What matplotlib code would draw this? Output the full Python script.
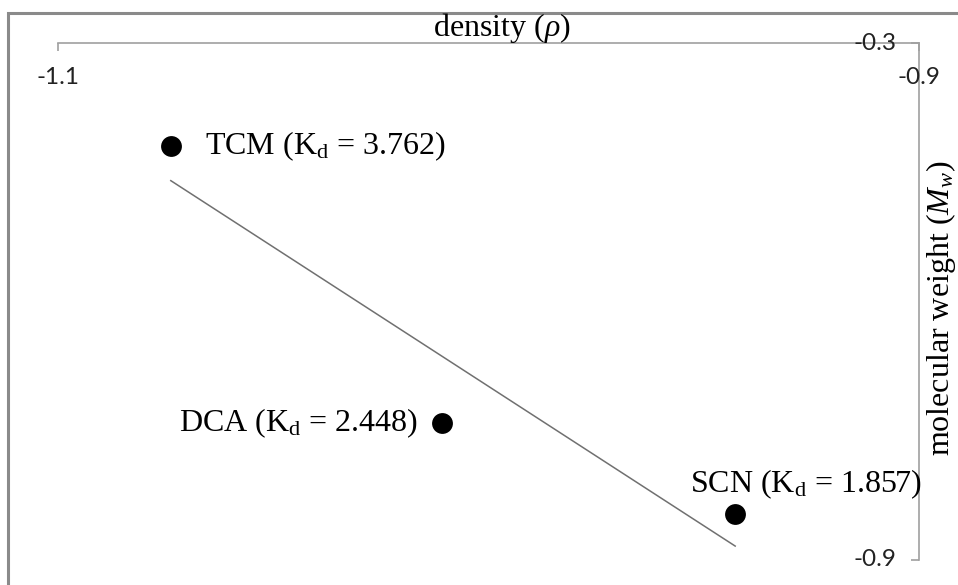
import numpy as np
import matplotlib
matplotlib.use("Agg")
import matplotlib.pyplot as plt
from matplotlib.patches import Rectangle

plt.rcParams['mathtext.fontset'] = 'custom'
plt.rcParams['mathtext.rm'] = 'Liberation Serif'
plt.rcParams['mathtext.it'] = 'Liberation Serif:italic'

# Data
names = ["TCM", "DCA", "SCN"]
kd = ["3.762", "2.448", "1.857"]
density = [-1.0738, -1.0108, -0.9427]
mol_weight = [-0.4195, -0.7410, -0.8466]
x_ticks = [-1.1, -0.9]
x_ticklabels = ["-1.1", "-0.9"]
y_ticks = [-0.3, -0.9]
y_ticklabels = ["-0.3", "-0.9"]

W, H = 958, 585
fig = plt.figure(figsize=(W / 100, H / 100), dpi=100)

def fx(px):
    return px / W

def fy(py):
    return 1 - py / H

ax = fig.add_axes([fx(58), fy(560), fx(919) - fx(58), fy(43) - fy(560)])
ax.set_xlim(-1.1, -0.9)
ax.set_ylim(-0.9, -0.3)

spine_col = '#a0a0a0'
for s in ['left', 'bottom']:
    ax.spines[s].set_visible(False)
for s in ['top', 'right']:
    ax.spines[s].set_color(spine_col)
    ax.spines[s].set_linewidth(1.2)

ax.xaxis.tick_top()
ax.yaxis.tick_right()
ax.set_xticks(x_ticks)
ax.set_yticks(y_ticks)
ax.tick_params(axis='both', direction='in', length=5.5, width=1.2, color=spine_col,
               labeltop=False, labelbottom=False, labelleft=False, labelright=False)

# points
ax.scatter(density, mol_weight, s=225, color='black', zorder=3, linewidths=0)

# trend line
coef = np.polyfit(density, mol_weight, 1)
xs = np.array([min(density), max(density)])
ax.plot(xs, np.polyval(coef, xs), color='#707070', lw=1.1, zorder=2)

serif = 'Liberation Serif'
lab_fs = 23
offsets = [(34, 0, 'left', 'center'), (-24, 0, 'right', 'center'), (-45, 30, 'left', 'center')]
for n, k, x, y, (dx, dy, ha, va) in zip(names, kd, density, mol_weight, offsets):
    ax.annotate(f"{n} (K$_\\mathrm{{d}}$ = {k})", (x, y), xytext=(dx, dy),
                textcoords='offset pixels', ha=ha, va=va, fontsize=lab_fs,
                family=serif, color='black', zorder=4)

# tick labels
tick_fs = 17.5
tick_font = 'Lato'
for v, l in zip(x_ticks, x_ticklabels):
    ax.annotate(l, (v, -0.3), xytext=(0, -35), textcoords='offset pixels',
                ha='center', va='center', fontsize=tick_fs, family=tick_font,
                color='#222222', annotation_clip=False)
for v, l in zip(y_ticks, y_ticklabels):
    ax.annotate(l, (-0.9, v), xytext=(-44, 0), textcoords='offset pixels',
                ha='center', va='center', fontsize=tick_fs, family=tick_font,
                color='#222222', annotation_clip=False)

# axis titles
fig.text(fx(502), fy(28), r"density ($\rho$)", ha='center', va='center',
         fontsize=lab_fs, family=serif)
fig.text(fx(941), fy(308), r"molecular weight ($M_w$)", ha='center', va='center',
         rotation=90, fontsize=lab_fs, family=serif)

# chart border (cropped on right and bottom)
fig.add_artist(Rectangle((fx(8), fy(H + 20)), fx(W + 40), fy(13) - fy(H + 20),
                         transform=fig.transFigure, fill=False,
                         edgecolor='#8a8a8a', linewidth=2.2, clip_on=False))

fig.savefig("out.png", dpi=100)
